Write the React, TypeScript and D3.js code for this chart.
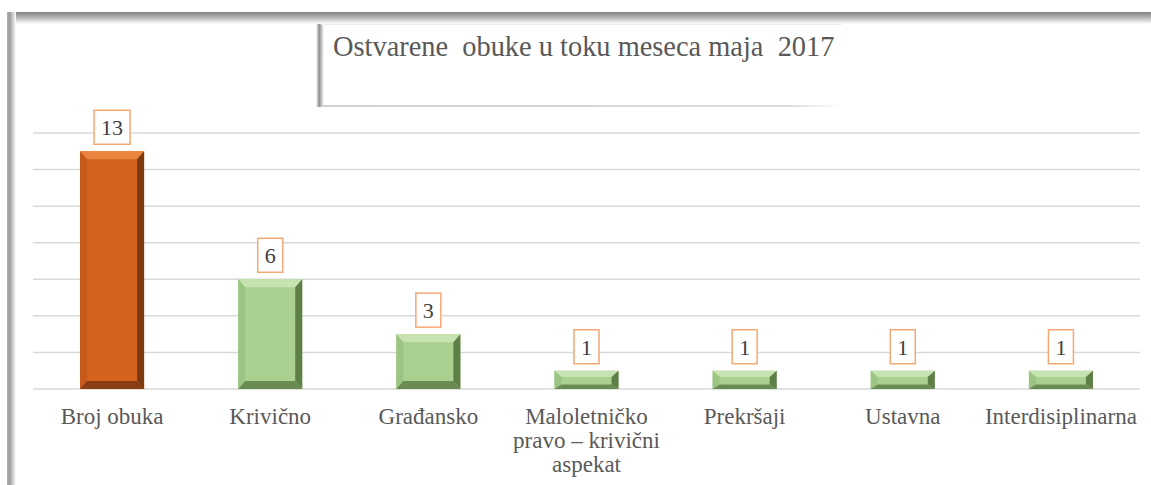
import React from "react";
import * as d3 from "d3";

const categories = [
  "Broj obuka",
  "Krivično",
  "Građansko",
  "Maloletničko\npravo – krivični\naspekat",
  "Prekršaji",
  "Ustavna",
  "Interdisiplinarna",
];
const values = [13, 6, 3, 1, 1, 1, 1];
const yTicks = [0, 2, 4, 6, 8, 10, 12, 14];
const title = "Ostvarene  obuke u toku meseca maja  2017";

const W = 1151;
const H = 485;
const plot = { left: 33, right: 1140, top: 133, bottom: 389 };

const palettes = {
  orange: { face: "#d4621f", top: "#e8843e", left: "#c75a1b", right: "#7c3811", bottom: "#8a3d12" },
  green: { face: "#a9d08e", top: "#c8e3b2", left: "#9cc583", right: "#5f7f49", bottom: "#6a8c53" },
};

const FONT = "'Liberation Serif', 'Times New Roman', serif";

export default function App() {
  const x = d3
    .scaleBand<string>()
    .domain(categories)
    .range([plot.left, plot.right])
    .paddingInner(0.595)
    .paddingOuter(0.2975);
  const y = d3.scaleLinear().domain([0, 14]).range([plot.bottom, plot.top]);

  return (
    <svg
      width={W}
      height={H}
      style={{ position: "absolute", left: 0, top: 0, background: "#fff", fontFamily: FONT }}
    >
      <defs>
        <linearGradient id="topShadow" x1="0" y1="0" x2="0" y2="1">
          <stop offset="0" stopColor="#858585" />
          <stop offset="0.35" stopColor="#a8a8a8" />
          <stop offset="1" stopColor="#ffffff" />
        </linearGradient>
        <linearGradient id="leftShadow" x1="0" y1="0" x2="1" y2="0">
          <stop offset="0" stopColor="#b0b0b0" />
          <stop offset="0.3" stopColor="#9a9a9a" />
          <stop offset="1" stopColor="#ffffff" />
        </linearGradient>
        <linearGradient id="titleLeft" x1="0" y1="0" x2="1" y2="0">
          <stop offset="0" stopColor="#ffffff" />
          <stop offset="0.4" stopColor="#8c8c8c" />
          <stop offset="1" stopColor="#ffffff" />
        </linearGradient>
        <linearGradient id="titleBottom" x1="0" y1="0" x2="1" y2="0">
          <stop offset="0" stopColor="#d0d0d0" />
          <stop offset="0.9" stopColor="#dcdcdc" />
          <stop offset="1" stopColor="#ffffff" />
        </linearGradient>
      </defs>

      {/* frame shadows */}
      <rect x={7} y={12} width={W - 7} height={12} fill="url(#topShadow)" />
      <rect x={7} y={12} width={9} height={H - 12} fill="url(#leftShadow)" />

      {/* title box */}
      <rect x={316} y={24} width={8} height={83} fill="url(#titleLeft)" />
      <rect x={321} y={105} width={521} height={2} fill="url(#titleBottom)" />
      <rect x={321} y={24} width={521} height={1} fill="#eeeeee" />
      <text x={333} y={56} fontSize={28.4} fill="#595959" style={{ whiteSpace: "pre", fontFamily: FONT }}>
        {title}
      </text>

      {/* gridlines */}
      {yTicks.map((t) => (
        <line
          key={t}
          x1={plot.left}
          x2={plot.right}
          y1={y(t)}
          y2={y(t)}
          stroke="#d9d9d9"
          strokeWidth={1.5}
        />
      ))}

      {/* bars */}
      {categories.map((c, i) => {
        const p = i === 0 ? palettes.orange : palettes.green;
        const x0 = x(c)!;
        const x1 = x0 + x.bandwidth();
        const y0 = y(values[i]);
        const y1 = y(0);
        const h = y1 - y0;
        const bt = Math.min(8, h * 0.35);
        const bb = Math.min(8, h * 0.25);
        const bs = Math.min(7, x.bandwidth() / 2);
        const ix0 = x0 + bs;
        const ix1 = x1 - bs;
        const iy0 = y0 + bt;
        const iy1 = y1 - bb;
        const poly = (pts: number[][]) => pts.map((q) => q.join(",")).join(" ");
        return (
          <g key={c}>
            <rect x={x0} y={y0} width={x1 - x0} height={h} fill={p.face} />
            <polygon points={poly([[x0, y0], [x1, y0], [ix1, iy0], [ix0, iy0]])} fill={p.top} />
            <polygon points={poly([[x0, y0], [ix0, iy0], [ix0, iy1], [x0, y1]])} fill={p.left} />
            <polygon points={poly([[x1, y0], [x1, y1], [ix1, iy1], [ix1, iy0]])} fill={p.right} />
            <polygon points={poly([[x0, y1], [ix0, iy1], [ix1, iy1], [x1, y1]])} fill={p.bottom} />
          </g>
        );
      })}

      {/* data labels */}
      {categories.map((c, i) => {
        const cx = x(c)! + x.bandwidth() / 2;
        const label = String(values[i]);
        const bw = label.length * 11 + 14;
        const bh = 34;
        const by = y(values[i]) - 7 - bh;
        return (
          <g key={c}>
            <rect
              x={cx - bw / 2}
              y={by}
              width={bw}
              height={bh}
              fill="#ffffff"
              stroke="#f4a873"
              strokeWidth={1.5}
            />
            <text x={cx} y={by + 25} textAnchor="middle" fontSize={22} fill="#404040" style={{ fontFamily: FONT }}>
              {label}
            </text>
          </g>
        );
      })}

      {/* category labels */}
      {categories.map((c) => {
        const cx = x(c)! + x.bandwidth() / 2;
        const lines = c.split("\n");
        return (
          <text key={c} textAnchor="middle" fontSize={23} fill="#595959" style={{ fontFamily: FONT }}>
            {lines.map((ln, k) => (
              <tspan key={k} x={cx} y={424 + k * 24}>
                {ln}
              </tspan>
            ))}
          </text>
        );
      })}
    </svg>
  );
}
